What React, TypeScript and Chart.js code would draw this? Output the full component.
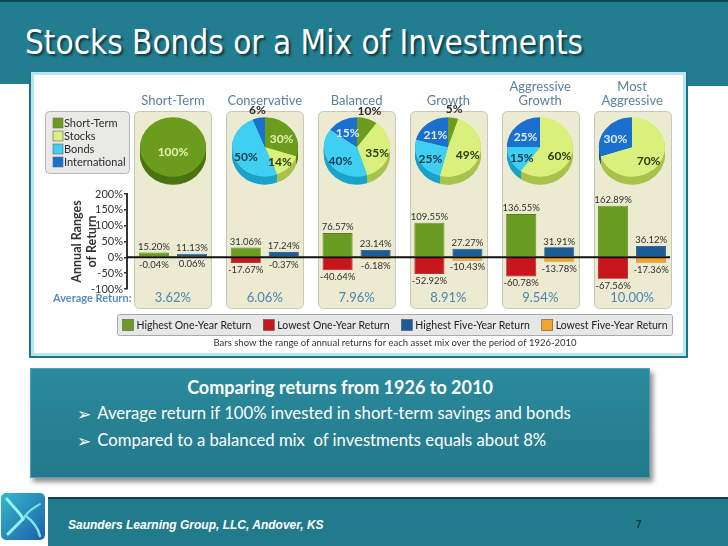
import React, { useEffect, useRef } from "react";
import { Chart, registerables } from "chart.js";

Chart.register(...registerables);

// ---------------- data ----------------
const categories = ["Short-Term", "Conservative", "Balanced", "Growth", "Aggressive Growth", "Most Aggressive"];
const categoryTitles = [["Short-Term"], ["Conservative"], ["Balanced"], ["Growth"], ["Aggressive", "Growth"], ["Most", "Aggressive"]];
const highestOneYear = [15.2, 31.06, 76.57, 109.55, 136.55, 162.89];
const lowestOneYear = [-0.04, -17.67, -40.64, -52.92, -60.78, -67.56];
const highestFiveYear = [11.13, 17.24, 23.14, 27.27, 31.91, 36.12];
const lowestFiveYear = [0.06, -0.37, -6.18, -10.43, -13.78, -17.36];
const averageReturns = ["3.62%", "6.06%", "7.96%", "8.91%", "9.54%", "10.00%"];
const yTickValues = [-100, -50, 0, 50, 100, 150, 200];
const seriesLabels = ["Highest One-Year Return", "Lowest One-Year Return", "Highest Five-Year Return", "Lowest Five-Year Return"];
const assetClasses = ["Short-Term", "Stocks", "Bonds", "International"];
const shortTermShare = [100, 30, 10, 5, 0, 0];
const stocksShare = [0, 14, 35, 49, 60, 70];
const bondsShare = [0, 50, 40, 25, 15, 0];
const internationalShare = [0, 6, 15, 21, 25, 30];

// ---------------- styles ----------------
const FONT = "Lato, 'Open Sans', sans-serif";
const TEAL = "#217d8f";
const ASSET_COLORS = ["#6b9c1e", "#d9f07c", "#3fcff2", "#1b6fce"];
const ASSET_SIDE = ["#4a7410", "#a9c24c", "#1ca2c8", "#104c98"];
const ASSET_LABEL = ["#e4f2b2", "#2d3a10", "#17384f", "#dcefff"];
const SERIES_COLORS = ["#6a9c22", "#c8161d", "#1c5d97", "#f3a42d"];
const SERIES_BORDERS = ["#557f18", "#9f1015", "#144677", "#d08518"];

// layout (page coordinates)
const CANVAS_LEFT = 30;
const CANVAS_TOP = 72;
const CHART_LEFT = CANVAS_LEFT + 40 + 57;
const CHART_RIGHT = CANVAS_LEFT + 658 - 10;
const CAT_W = (CHART_RIGHT - CHART_LEFT) / categories.length;
const PIE_CY = 147;
const PIE_R = 33;
const SQUASH = 0.9;
const DEPTH = 8;

const decorPlugin = {
  id: "slideDecor",
  beforeDraw(chart: any) {
    const { ctx, scales } = chart;
    const x = scales.x;
    ctx.save();
    // asset legend (top-left)
    ctx.fillStyle = "#e9e9e7";
    ctx.strokeStyle = "#b5b5b5";
    ctx.lineWidth = 1;
    ctx.beginPath();
    ctx.roundRect(15.5, 39.5, 84, 62, 4);
    ctx.fill();
    ctx.stroke();
    ctx.font = `11px ${FONT}`;
    ctx.textBaseline = "middle";
    ctx.textAlign = "left";
    assetClasses.forEach((name, i) => {
      const cy = 51 + i * 13;
      ctx.fillStyle = ASSET_COLORS[i];
      ctx.fillRect(23, cy - 5, 10, 10);
      ctx.strokeStyle = "#666";
      ctx.lineWidth = 0.6;
      ctx.strokeRect(23, cy - 5, 10, 10);
      ctx.fillStyle = "#2b2b2b";
      ctx.fillText(name, 34, cy + 0.5);
    });
    // panels + titles
    categories.forEach((_, i) => {
      const cx = x.getPixelForValue(i);
      ctx.fillStyle = "#ecebd2";
      ctx.strokeStyle = "#c3cbb4";
      ctx.lineWidth = 1;
      ctx.beginPath();
      ctx.roundRect(Math.round(cx - 38.5) + 0.5, 39.5, 77, 197, 5);
      ctx.fill();
      ctx.stroke();
      ctx.fillStyle = "#5b8297";
      ctx.font = `13px ${FONT}`;
      ctx.textAlign = "center";
      ctx.textBaseline = "middle";
      const lines = categoryTitles[i];
      lines.forEach((t, k) => ctx.fillText(t, cx, 29 - (lines.length - 1 - k) * 14));
    });
    ctx.restore();
  },
  afterDatasetsDraw(chart: any) {
    const { ctx, scales, chartArea } = chart;
    const x = scales.x;
    const y = scales.y;
    ctx.save();
    // zero line
    const y0 = y.getPixelForValue(0);
    ctx.strokeStyle = "#111";
    ctx.lineWidth = 2;
    ctx.beginPath();
    ctx.moveTo(chartArea.left, y0);
    ctx.lineTo(x.getPixelForValue(categories.length - 1) + 38, y0);
    ctx.stroke();
    // value labels
    ctx.font = `9.5px ${FONT}`;
    ctx.fillStyle = "#2f2f2f";
    ctx.textAlign = "center";
    chart.data.datasets.forEach((ds: any, di: number) => {
      const meta = chart.getDatasetMeta(di);
      meta.data.forEach((el: any, i: number) => {
        const v = ds.data[i];
        const txt = `${v.toFixed(2)}%`;
        if (di % 2 === 0) {
          ctx.textBaseline = "bottom";
          ctx.fillText(txt, el.x, Math.min(el.y, el.base) - 1);
        } else {
          ctx.textBaseline = "top";
          ctx.fillText(txt, el.x, Math.max(el.y, el.base) + 2);
        }
      });
    });
    ctx.restore();
  },
  afterDraw(chart: any) {
    const { ctx, scales } = chart;
    const x = scales.x;
    ctx.save();
    // average returns row
    ctx.textBaseline = "middle";
    ctx.font = `bold 11px ${FONT}`;
    ctx.fillStyle = "#5a8cb8";
    ctx.textAlign = "right";
    ctx.fillText("Average Return:", 101.5, 226);
    ctx.font = `13px ${FONT}`;
    ctx.fillStyle = "#4c85b4";
    ctx.textAlign = "center";
    averageReturns.forEach((t, i) => ctx.fillText(t, x.getPixelForValue(i), 226));
    // bottom legend
    const L = 87.5, T = 242.5, W = 555, H = 21;
    ctx.fillStyle = "#e7e7e7";
    ctx.strokeStyle = "#a9a9a9";
    ctx.lineWidth = 1;
    ctx.beginPath();
    ctx.roundRect(L, T, W, H, 2);
    ctx.fill();
    ctx.stroke();
    ctx.font = `10.5px ${FONT}`;
    const sq = 11;
    const widths = chart.data.datasets.map((ds: any) => sq + 3 + ctx.measureText(ds.label).width);
    const total = widths.reduce((a: number, b: number) => a + b, 0);
    const gap = (W - 10 - total) / 3;
    let lx = L + 5;
    chart.data.datasets.forEach((ds: any, i: number) => {
      ctx.fillStyle = ds.backgroundColor;
      ctx.fillRect(lx, T + 5, sq, sq);
      ctx.strokeStyle = "#555";
      ctx.lineWidth = 0.6;
      ctx.strokeRect(lx, T + 5, sq, sq);
      ctx.fillStyle = "#222";
      ctx.textAlign = "left";
      ctx.fillText(ds.label, lx + sq + 3, T + H / 2 + 0.5);
      lx += widths[i] + gap;
    });
    // caption
    ctx.font = `9.5px ${FONT}`;
    ctx.fillStyle = "#333";
    ctx.textAlign = "center";
    ctx.fillText("Bars show the range of annual returns for each asset mix over the period of 1926-2010", 365, 271);
    ctx.restore();
  },
};

const pie3dPlugin = {
  id: "pie3d",
  beforeDatasetsDraw(chart: any) {
    const ctx = chart.ctx;
    const arcs = chart.getDatasetMeta(0).data;
    const cx = arcs[0].x;
    const cy = arcs[0].y;
    ctx.save();
    ctx.translate(cx, cy);
    ctx.scale(1, SQUASH);
    ctx.translate(-cx, -cy);
    for (let d = DEPTH; d >= 1; d -= 1) {
      arcs.forEach((a: any, i: number) => {
        if (a.endAngle - a.startAngle <= 0) return;
        const oy = cy + d / SQUASH;
        ctx.beginPath();
        ctx.moveTo(cx, oy);
        ctx.arc(cx, oy, a.outerRadius, a.startAngle, a.endAngle);
        ctx.closePath();
        ctx.fillStyle = ASSET_SIDE[i];
        ctx.fill();
      });
    }
  },
  afterDatasetsDraw(chart: any) {
    const ctx = chart.ctx;
    ctx.restore();
    const arcs = chart.getDatasetMeta(0).data;
    const values = chart.data.datasets[0].data;
    const cx = arcs[0].x;
    const cy = arcs[0].y;
    ctx.save();
    ctx.font = `bold 12px ${FONT}`;
    ctx.textAlign = "center";
    ctx.textBaseline = "middle";
    arcs.forEach((a: any, i: number) => {
      const v = values[i];
      if (!v) return;
      const mid = (a.startAngle + a.endAngle) / 2;
      let lx = cx;
      let ly = cy + 5;
      let color = ASSET_LABEL[i];
      if (v < 100 && v <= 10) {
        const rr = a.outerRadius + 7;
        lx = cx + Math.cos(mid) * rr;
        ly = cy + Math.sin(mid) * rr * SQUASH - 2;
        color = "#2a2a2a";
      } else if (v < 100) {
        const rr = a.outerRadius * 0.62;
        lx = cx + Math.cos(mid) * rr;
        ly = cy + Math.sin(mid) * rr * SQUASH + 3;
      }
      ctx.fillStyle = color;
      ctx.fillText(`${v}%`, lx, ly);
    });
    ctx.restore();
  },
};

function MixPie({ index }: { index: number }) {
  const ref = useRef<HTMLCanvasElement>(null);
  useEffect(() => {
    const values = [shortTermShare[index], stocksShare[index], bondsShare[index], internationalShare[index]];
    const chart = new Chart(ref.current as HTMLCanvasElement, {
      type: "pie",
      data: {
        labels: assetClasses,
        datasets: [{ data: values, backgroundColor: ASSET_COLORS, borderWidth: 0 }],
      },
      options: {
        responsive: false,
        animation: false,
        devicePixelRatio: 1,
        radius: PIE_R,
        layout: { padding: 0 },
        plugins: { legend: { display: false }, tooltip: { enabled: false } },
      } as any,
      plugins: [pie3dPlugin],
    });
    return () => chart.destroy();
  }, [index]);
  const cx = CHART_LEFT + (index + 0.5) * CAT_W;
  return (
    <canvas
      ref={ref}
      width={90}
      height={84}
      style={{ position: "absolute", left: Math.round(cx - 45), top: PIE_CY - 42, zIndex: 2 }}
    />
  );
}

function ReturnsChart() {
  const ref = useRef<HTMLCanvasElement>(null);
  useEffect(() => {
    const series = [highestOneYear, lowestOneYear, highestFiveYear, lowestFiveYear];
    const stacks = ["oneYear", "oneYear", "fiveYear", "fiveYear"];
    const chart = new Chart(ref.current as HTMLCanvasElement, {
      type: "bar",
      data: {
        labels: categories,
        datasets: series.map((d, i) => ({
          label: seriesLabels[i],
          data: d,
          backgroundColor: SERIES_COLORS[i],
          borderColor: SERIES_BORDERS[i],
          borderWidth: 0.8,
          stack: stacks[i],
        })),
      },
      options: {
        responsive: false,
        animation: false,
        devicePixelRatio: 1,
        layout: { padding: { left: 40, right: 10, top: 122, bottom: 69 } },
        datasets: { bar: { categoryPercentage: 0.828, barPercentage: 0.79 } },
        scales: {
          x: { display: false, stacked: true, offset: true },
          y: {
            stacked: false,
            min: -100,
            max: 200,
            afterFit: (s: any) => {
              s.width = 57;
            },
            afterBuildTicks: (s: any) => {
              s.ticks = yTickValues.map((v) => ({ value: v }));
            },
            ticks: {
              autoSkip: false,
              callback: (v: any) => `${v}%`,
              font: { family: FONT, size: 11 },
              color: "#333",
              padding: 1,
            },
            grid: { drawOnChartArea: false, tickLength: 3, color: "#333", lineWidth: 1.5 },
            border: { display: true, color: "#333", width: 2 },
            title: {
              display: true,
              text: ["Annual Ranges", "of Return"],
              font: { family: FONT, size: 12.5, weight: "bold", lineHeight: 1.15 },
              color: "#333",
              padding: 0,
            },
          },
        },
        plugins: { legend: { display: false }, tooltip: { enabled: false } },
      } as any,
      plugins: [decorPlugin],
    });
    return () => chart.destroy();
  }, []);
  return (
    <canvas
      ref={ref}
      width={658}
      height={286}
      style={{ position: "absolute", left: CANVAS_LEFT, top: CANVAS_TOP, zIndex: 1 }}
    />
  );
}

const bulletStyle = { fontFamily: "'DejaVu Sans'", fontSize: 17, marginRight: 6, position: "relative" as const, top: 1 };

export default function App() {
  return (
    <div
      style={{
        position: "absolute",
        left: 0,
        top: 0,
        width: 728,
        height: 546,
        background: "#fff",
        overflow: "hidden",
        fontFamily: FONT,
      }}
    >
      {/* header */}
      <div style={{ position: "absolute", left: 0, top: 0, width: 728, height: 72, background: TEAL, borderTop: "2px solid #0f4a57", boxSizing: "border-box" }} />
      <div style={{ position: "absolute", left: 0, top: 72, width: 29, height: 12, background: TEAL }} />
      <div style={{ position: "absolute", left: 688, top: 72, width: 40, height: 14, background: TEAL }} />
      <div
        style={{
          position: "absolute",
          left: 25,
          top: 23,
          color: "#fff",
          fontFamily: "'DejaVu Sans Condensed', 'DejaVu Sans', sans-serif",
          fontWeight: "normal",
          fontSize: 33,
          lineHeight: "40px",
          whiteSpace: "nowrap",
          textShadow: "2px 2px 2px rgba(0,0,0,0.55)",
        }}
      >
        Stocks Bonds or a Mix of Investments
      </div>

      {/* image frame */}
      <div
        style={{
          position: "absolute",
          left: 29,
          top: 72,
          width: 659,
          height: 286,
          boxSizing: "border-box",
          borderLeft: "2px solid #1f7585",
          borderRight: "2px solid #1f7585",
          borderBottom: "2px solid #1f7585",
          background: "#fff",
          boxShadow: "inset 0 0 0 3px #b8e6f0",
        }}
      />
      <ReturnsChart />
      {categories.map((c, i) => (
        <MixPie key={c} index={i} />
      ))}

      {/* text box */}
      <div
        style={{
          position: "absolute",
          left: 30,
          top: 368,
          width: 620,
          height: 110,
          boxSizing: "border-box",
          background: "linear-gradient(#2b8a9d, #23798b)",
          border: "1px solid #4aa2b3",
          boxShadow: "3px 4px 5px rgba(0,0,0,0.45)",
          color: "#fff",
        }}
      >
        <div style={{ position: "absolute", left: 0, width: 618, top: 7, textAlign: "center", fontWeight: "bold", fontSize: 18, lineHeight: "22px" }}>
          Comparing returns from 1926 to 2010
        </div>
        <div style={{ position: "absolute", left: 46, top: 34, fontSize: 16.7, lineHeight: "20px", whiteSpace: "nowrap" }}>
          <span style={bulletStyle}>➢</span>
          Average return if 100% invested in short-term savings and bonds
        </div>
        <div style={{ position: "absolute", left: 46, top: 61, fontSize: 16.7, lineHeight: "20px", whiteSpace: "nowrap" }}>
          <span style={bulletStyle}>➢</span>
          Compared to a balanced mix&nbsp; of investments equals about 8%
        </div>
      </div>

      {/* footer */}
      <div style={{ position: "absolute", left: 48, top: 497, width: 680, height: 49, background: "#227b8c", borderTop: "2px solid #0f3d48", boxSizing: "border-box" }} />
      <svg width={46} height={49} style={{ position: "absolute", left: 0, top: 492 }}>
        <defs>
          <linearGradient id="logoGrad" x1="0" y1="0" x2="1" y2="1">
            <stop offset="0" stopColor="#36b9ca" />
            <stop offset="1" stopColor="#1b5fab" />
          </linearGradient>
        </defs>
        <rect x={1} y={1} width={44} height={47} rx={5} fill="url(#logoGrad)" />
        <path d="M7 7 C 12 14, 20 20, 23 27" stroke="#9af3f3" strokeWidth={3} fill="none" strokeLinecap="round" />
        <path d="M23 27 C 28 18, 34 16, 40 12" stroke="#7fe4ee" strokeWidth={2} fill="none" strokeLinecap="round" />
        <path d="M23 27 C 17 33, 12 38, 8 42" stroke="#9af3f3" strokeWidth={3} fill="none" strokeLinecap="round" />
        <path d="M26 24 C 34 30, 38 36, 40 44" stroke="#7fe4ee" strokeWidth={2.5} fill="none" strokeLinecap="round" />
      </svg>
      <div
        style={{
          position: "absolute",
          left: 68,
          top: 517,
          color: "#fff",
          fontFamily: "'Liberation Sans', Arial, sans-serif",
          fontStyle: "italic",
          fontWeight: "bold",
          fontSize: 12,
          lineHeight: "16px",
          whiteSpace: "nowrap",
        }}
      >
        Saunders Learning Group, LLC, Andover, KS
      </div>
      <div
        style={{
          position: "absolute",
          left: 636,
          top: 518,
          color: "#0e3440",
          fontFamily: "'Liberation Sans', Arial, sans-serif",
          fontWeight: "bold",
          fontSize: 10,
          lineHeight: "14px",
        }}
      >
        7
      </div>
    </div>
  );
}
